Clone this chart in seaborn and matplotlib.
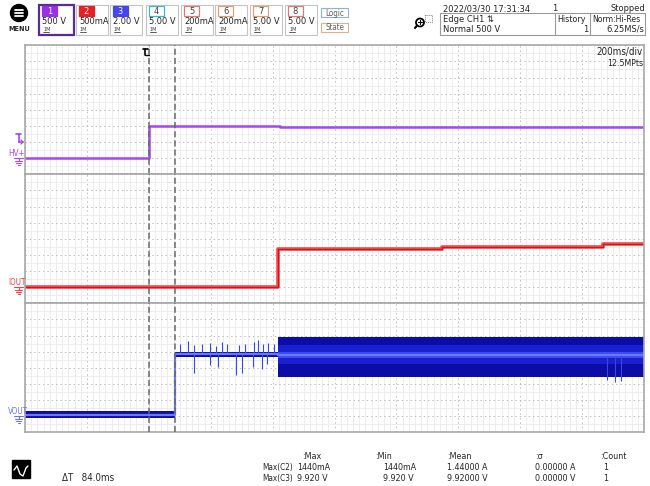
import matplotlib
matplotlib.use('Agg')
import matplotlib.pyplot as plt
import seaborn as sns
from matplotlib.patches import Rectangle, Circle
from matplotlib.lines import Line2D

# time base: 200 ms/div, 10 div
t_range = [-400, 1600]
cursor_t = [0, 84]

# CH1 HV+ (V), 500 V/div
hv_t = [-400, 0, 0, 425, 425, 1600]
hv_v = [0, 0, 1000, 1000, 975, 975]

# CH2 IOUT (mA), 500 mA/div
iout_t = [-400, 418, 418, 947, 947, 1469, 1469, 1600]
iout_v = [0, 0, 1180, 1180, 1250, 1250, 1340, 1340]

# CH3 VOUT (V), 2 V/div
vout_t = [-400, 84, 84, 418, 418, 1600]
vout_level = [0.2, 0.2, 7.7, 7.7, 7.6, 7.6]
vout_env_lo = [-0.25, -0.25, 7.4, 7.4, 4.9, 4.9]
vout_env_hi = [0.6, 0.6, 8.0, 8.0, 9.8, 9.8]
vout_core_t = [418, 1600]
vout_core_lo = [6.5, 6.5]
vout_core_hi = [8.8, 8.8]
vout_center_lo = [7.2, 7.2]
vout_center_hi = [8.0, 8.0]

spike_up_t = [102, 126, 145, 171, 198, 218, 236, 252, 290, 311, 340, 354, 370, 386, 403]
spike_up_v = [8.9, 9.35, 8.8, 9.0, 9.1, 8.7, 9.2, 8.9, 8.8, 9.0, 9.2, 9.5, 8.9, 9.1, 9.0]
spike_dn_t = [147, 198, 225, 282, 301, 338, 365, 381, 1482, 1505, 1527]
spike_dn_v = [5.3, 6.3, 6.1, 5.1, 5.3, 6.1, 5.8, 6.5, 4.5, 4.3, 4.4]

# header values
ch_labels = ['1', '2', '3', '4', '5', '6', '7', '8']
ch_scales = ['500 V', '500mA', '2.00 V', '5.00 V', '200mA', '200mA', '5.00 V', '5.00 V']
ch_colors = ['#9a30e6', '#e82020', '#4646f0', '#40b8c0', '#e07878', '#e0a070', '#e0a070', '#e07878']
ch_x = [39, 76, 110, 146, 181, 215, 250, 285]

meas_cols = [':Max', ':Min', ':Mean', ':σ', ':Count']
meas_rows = ['Max(C2)', 'Max(C3)']
meas_vals = [['1440mA', '1440mA', '1.44000 A', '0.00000 A', '1'],
             ['9.920 V', '9.920 V', '9.92000 V', '0.00000 V', '1']]

sns.set_style('white')
plt.rcParams['font.family'] = ['DejaVu Sans']
plt.rcParams['font.stretch'] = 'condensed'

fig = plt.figure(figsize=(6.5, 4.86), dpi=100)
W, H = 650, 486

left, right = 25 / W, 644 / W
panel_h = 129 / H
bottoms = [1 - 174.3 / H, 1 - 303.3 / H, 1 - 432.3 / H]
ylims = [(-500, 3500), (-500, 3500), (-2, 14)]
ydiv = [500, 500, 2]

axes = []
for b, yl, d in zip(bottoms, ylims, ydiv):
    ax = fig.add_axes([left, b, right - left, panel_h])
    ax.set_xlim(t_range)
    ax.set_ylim(yl)
    ax.set_xticks(range(t_range[0], t_range[1] + 1, 200))
    ax.set_xticks(range(t_range[0], t_range[1] + 1, 20), minor=True)
    ax.set_yticks([yl[0] + i * d for i in range(9)])
    ax.set_yticks([yl[0] + i * d / 2 for i in range(17)], minor=True)
    ax.tick_params(which='both', length=0, labelbottom=False, labelleft=False)
    ax.grid(which='minor', color='#eaeaea', lw=0.6)
    ax.grid(which='major', color='#bdbdbd', lw=0.7, ls=(0, (1.5, 3)))
    ax.set_axisbelow(True)
    for s in ax.spines.values():
        s.set_color('#a8a8a8')
        s.set_linewidth(1.2)
    ax.set_xlabel('')
    ax.set_ylabel('')
    axes.append(ax)

ax1, ax2, ax3 = axes

# CH1
sns.lineplot(x=hv_t, y=hv_v, ax=ax1, estimator=None, sort=False, color='#a844f2', lw=1.8)
# CH2
sns.lineplot(x=iout_t, y=iout_v, ax=ax2, estimator=None, sort=False, color='#f44848', lw=2.6)
sns.lineplot(x=iout_t, y=iout_v, ax=ax2, estimator=None, sort=False, color='#d41414', lw=0.8)
# CH3
ax3.fill_between(vout_t, vout_env_lo, vout_env_hi, color='#0c0ca6', lw=0)
ax3.fill_between(vout_core_t, vout_core_lo, vout_core_hi, color='#1a20d0', lw=0)
ax3.fill_between(vout_core_t, vout_center_lo, vout_center_hi, color='#3c4af2', lw=0)
ax3.vlines(spike_up_t, 7.7, spike_up_v, color='#3a46e0', lw=0.8)
ax3.vlines(spike_dn_t, spike_dn_v, 7.7, color='#3a46e0', lw=0.8)
sns.lineplot(x=vout_t, y=vout_level, ax=ax3, estimator=None, sort=False, color='#6a78ff', lw=1.6)

for ax in axes:
    for t in cursor_t:
        ax.axvline(t, color='#686868', lw=1.1, ls=(0, (4, 2)), zorder=6)

# overlay in pixel coordinates
ov = fig.add_axes([0, 0, 1, 1], zorder=10)
ov.set_xlim(0, W)
ov.set_ylim(H, 0)
ov.axis('off')
ov.patch.set_alpha(0)

FS = 6.7


def px_y(ax, v):
    return H - ax.transData.transform((0, v))[1]


def txt(x, y, s, **kw):
    kw.setdefault('fontsize', FS)
    kw.setdefault('va', 'center')
    ov.text(x, y, s, **kw)


def ln(xs, ys, **kw):
    kw.setdefault('color', 'k')
    kw.setdefault('lw', 0.8)
    ov.add_line(Line2D(xs, ys, **kw))


def ground(y, col):
    ln([14, 23], [y, y], color=col)
    ln([18.5, 18.5], [y, y + 2], color=col)
    ln([15, 22], [y + 2.5, y + 2.5], color=col)
    ln([16, 21], [y + 4.5, y + 4.5], color=col)
    ln([17.5, 19.5], [y + 6.5, y + 6.5], color=col)


# channel labels and ground markers
for ax, name, col in zip(axes, ['HV+', 'IOUT', 'VOUT'], ['#a844f2', '#f04040', '#6a78e8']):
    gy = px_y(ax, 0)
    ground(gy, col)
    txt(8, gy - 5, name, color=col, fontsize=5.8)

# trigger level marker (500 V on CH1)
ty = px_y(ax1, 500)
ln([16, 21], [ty - 8, ty - 8], color='#a844f2', lw=1.2)
ln([18.5, 18.5], [ty - 8, ty], color='#a844f2', lw=1.2)
ln([18.5, 23], [ty, ty], color='#a844f2', lw=1.2)
ln([21, 23, 21], [ty - 2, ty, ty + 2], color='#a844f2', lw=0.9)

# trigger position marker at top
tx = ax1.transData.transform((cursor_t[0], 0))[0]
ln([tx - 6, tx - 1], [49, 49], lw=1.2)
ln([tx - 3.5, tx - 3.5], [49, 55], lw=1.2)
ln([tx - 3.5, tx], [55, 55], lw=1.0)

txt(643, 52, '200ms/div', ha='right', fontsize=7)
txt(643, 63, '12.5MPts', ha='right', fontsize=6.3)

# MENU button
ov.add_patch(Circle((19, 13), 8.5, color='k'))
for yy in (10, 13, 16):
    ln([15, 23], [yy, yy], color='white', lw=1.3)
txt(19, 29, 'MENU', ha='center', fontsize=5.2, fontweight='bold')

# channel boxes
for i, (lab, sc, col, x0) in enumerate(zip(ch_labels, ch_scales, ch_colors, ch_x)):
    w = 35 if i == 0 else 32
    ov.add_patch(Rectangle((x0, 5), w, 30, facecolor='white',
                           edgecolor='#5a2a98' if i == 0 else '#c4c4c4',
                           lw=1.6 if i == 0 else 0.8))
    filled = i < 3
    ov.add_patch(Rectangle((x0 + 3, 6), 15, 10, facecolor=col if filled else 'white',
                           edgecolor=col, lw=0.9))
    txt(x0 + 10.5, 11, lab, ha='center', color='white' if filled else '#404040', fontsize=6.7)
    txt(x0 + 3, 21, sc)
    txt(x0 + 4, 29.5, '1M', fontsize=4, color='#404040')
    ln([x0 + 3.5, x0 + 10], [32, 32], color='#404040', lw=0.6)

ov.add_patch(Rectangle((321, 8.5), 27, 9, facecolor='white', edgecolor='#8ab4e0', lw=0.8))
txt(334.5, 13, 'Logic', ha='center', fontsize=5.8, color='#606060')
ov.add_patch(Rectangle((321, 23.5), 27, 9, facecolor='white', edgecolor='#e0b090', lw=0.8))
txt(334.5, 28, 'State', ha='center', fontsize=5.8, color='#606060')

# zoom icon
ov.add_patch(Circle((420, 22.5), 4, fill=False, lw=1.3, ec='k'))
ln([418, 422], [22.5, 22.5], lw=0.8)
ln([420, 420], [20.5, 24.5], lw=0.8)
ln([417, 415], [25.5, 28], lw=1.5)
ov.add_patch(Rectangle((425, 15), 7, 7, fill=False, ec='#808080', lw=0.7, ls=(0, (1, 1))))

# acquisition info
txt(443, 8.5, '2022/03/30 17:31:34')
txt(557, 8.5, '1', ha='right')
txt(645, 8.5, 'Stopped', ha='right')
ov.add_patch(Rectangle((440, 13.5), 205, 22, fill=False, ec='#9a9a9a', lw=0.8))
ln([555, 555], [13.5, 35.5], color='#9a9a9a')
ln([590, 590], [13.5, 35.5], color='#9a9a9a')
txt(443, 19, 'Edge CH1 \u21c5')
txt(443, 29.5, 'Normal 500 V')
txt(557, 19, 'History', fontsize=6.4)
txt(588, 29.5, '1', ha='right')
txt(592, 19, 'Norm:Hi-Res', fontsize=6.2)
txt(644, 29.5, '6.25MS/s', ha='right')

# bottom: cursor + measurements
ov.add_patch(Rectangle((12, 460), 18, 18, color='k'))
ln([14, 17, 20, 23, 26, 28], [470, 466, 474, 476, 468, 466], color='white', lw=1.0)
txt(62, 478, f'\u0394T   {cursor_t[1] - cursor_t[0]:.1f}ms', fontsize=7)

MS = 6.4
col_x = [302, 375, 447, 535, 600]
val_x = [297, 383, 447, 535, 603]
for cx, c in zip(col_x, meas_cols):
    txt(cx, 456, c, fontsize=MS)
for r, (name, vals) in enumerate(zip(meas_rows, meas_vals)):
    y = 467 + 11 * r
    txt(262, y, name, fontsize=5.9)
    for vx, v in zip(val_x, vals):
        txt(vx, y, v, fontsize=MS)

fig.savefig('out.png', dpi=100)
